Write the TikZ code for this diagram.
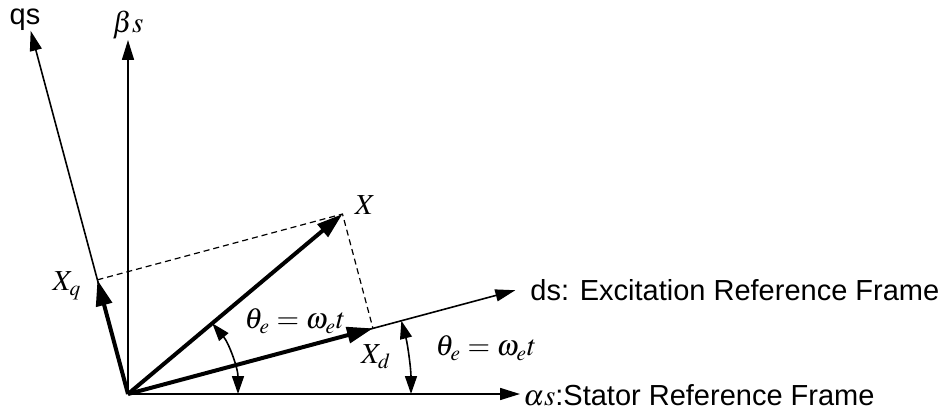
\documentclass[tikz,border=0pt]{standalone}
\usepackage{mathptmx}
\usepackage[no-math]{fontspec}
\setmainfont{Liberation Sans}
\usetikzlibrary{arrows.meta}

\begin{document}
\begin{tikzpicture}[x=0.5pt,y=0.5pt,font=\fontsize{14.5}{17}\selectfont,
  axis/.style={draw=black,line width=0.8pt,-{Triangle[length=10pt,width=6pt]}},
  vec/.style={draw=black,line width=2pt,-{Triangle[length=13pt,width=8pt]}},
  proj/.style={draw=black,line width=0.6pt,dash pattern=on 3pt off 2pt},
  anglearc/.style={draw=black,line width=0.8pt,{Triangle[length=9pt,width=6pt]}-{Triangle[length=9pt,width=6pt]}},
  lbl/.style={inner sep=0pt}]
\useasboundingbox (-128,-19) rectangle (824,394);
\coordinate (O) at (0,0);
\coordinate (atip) at (0:392);
\coordinate (btip) at (90:354);
\coordinate (dtip) at (15:401);
\coordinate (qtip) at (105:376);
\coordinate (X) at (40:280);
\coordinate (Xd) at (15:253.6);
\coordinate (Xq) at (105:118.2);
% labels
\node[lbl] (qs) at (-103,374) {qs};
\node[lbl] (bs) at (0,369) {$\beta s$};
\node[lbl,anchor=west] (as) at (395,-1) {$\alpha s$:Stator Reference Frame};
\node[lbl,anchor=west] (ds) at (402,104) {ds: Excitation Reference Frame};
\node[lbl] (Xlbl) at (237,189) {$X$};
\node[lbl] (Xqlbl) at (-61,108) {$X_q$};
\node[lbl] (Xdlbl) at (248,37) {$X_d$};
\node[lbl] (th1) at (167,73) {$\theta_e=\omega_e t$};
\node[lbl] (th2) at (358,46) {$\theta_e=\omega_e t$};
% frames
\draw[axis] (O) -- (atip);
\draw[axis] (O) -- (btip);
\draw[axis] (O) -- (dtip);
\draw[axis] (O) -- (qtip);
% vector and its d-q parts
\draw[vec] (O) -- (X);
\draw[vec] (O) -- (Xd);
\draw[vec] (O) -- (Xq);
\draw[proj] (Xq) -- (X) -- (Xd);
% angles
\draw[anglearc] (40:110) arc[start angle=40,end angle=0,radius=110];
\draw[anglearc] (15:283) arc[start angle=15,end angle=0,radius=283];
\end{tikzpicture}
\end{document}
